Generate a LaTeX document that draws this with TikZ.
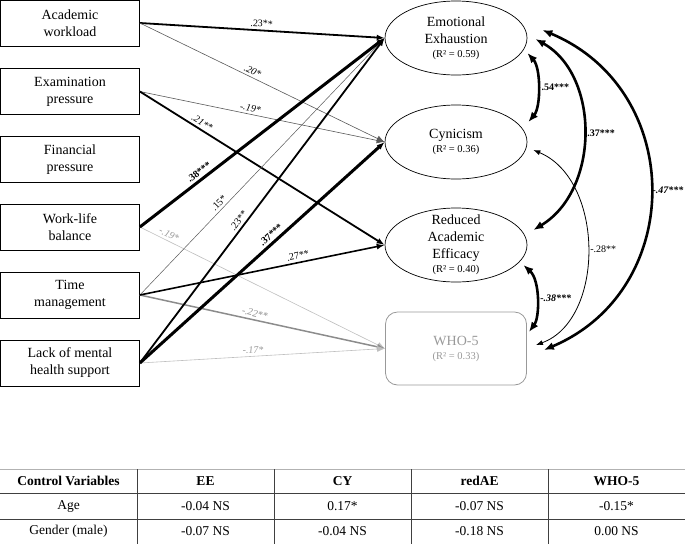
\documentclass[tikz,border=0pt]{standalone}
\usepackage{fontspec}
\setmainfont{Liberation Serif}
\usetikzlibrary{shapes.geometric,arrows.meta,calc}
\begin{document}
\begin{tikzpicture}[x=1pt,y=-1pt,
  src/.style={draw, line width=0.7pt, minimum width=139pt, minimum height=46pt, inner sep=0pt, align=center, font=\fontsize{14}{17}\selectfont},
  outc/.style={ellipse, draw, line width=0.7pt, minimum width=142pt, minimum height=74pt, inner sep=-9pt, align=center, font=\fontsize{14}{17}\selectfont},
  whobox/.style={draw=black!40, text=black!40, rounded corners=12pt, line width=0.8pt, minimum width=141pt, minimum height=73pt, inner sep=0pt, align=center, font=\fontsize{14}{17}\selectfont},
  lab/.style={font=\fontsize{10}{12}\selectfont, inner sep=2.5pt},
  labi/.style={lab, font=\fontsize{10}{12}\selectfont\itshape},
  labb/.style={lab, font=\fontsize{10}{12}\selectfont\bfseries},
  labbi/.style={lab, font=\fontsize{10}{12}\selectfont\bfseries\itshape},
  tip/.style={-{Latex[length=8pt,width=6pt]}},
  heavy/.style={tip, line width=3pt},
  medium/.style={tip, line width=1.8pt},
  thin/.style={tip, line width=0.6pt, draw=black!65},
  faint/.style={tip, line width=0.6pt, draw=black!25},
  curvb/.style={{Latex[length=10pt,width=8pt]}-{Latex[length=10pt,width=8pt]}, line width=2.6pt},
  curvt/.style={{Latex[length=7pt,width=5pt]}-{Latex[length=7pt,width=5pt]}, line width=0.8pt},
  cell/.style={font=\fontsize{13.5}{16}\selectfont, inner sep=0pt},
  hcell/.style={cell, font=\fontsize{13.5}{16}\selectfont\bfseries},
  tline/.style={line width=0.8pt, draw=black!75}
]
\useasboundingbox (0,0) rectangle (685,544);

% predictors
\node[src] (AW) at (70,23) {Academic\\workload};
\node[src] (EP) at (70,91.5) {Examination\\pressure};
\node[src] (FP) at (70,159.5) {Financial\\pressure};
\node[src] (WLB) at (70,227) {Work-life\\balance};
\node[src] (TM) at (70,295) {Time\\management};
\node[src] (LMHS) at (70,363) {Lack of mental\\health support};

% outcomes
\node[outc] (EE) at (456,38) {Emotional\\Exhaustion\\[-3pt]{\fontsize{10.5}{12}\selectfont(R² = 0.59)}};
\node[outc] (CY) at (456,142) {Cynicism\\[-3pt]{\fontsize{10.5}{12}\selectfont(R² = 0.36)}};
\node[outc] (RAE) at (456,245) {Reduced\\Academic\\Efficacy\\[-3pt]{\fontsize{10.5}{12}\selectfont(R² = 0.40)}};
\node[whobox] (WHO) at (456,348.5) {WHO-5\\[-3pt]{\fontsize{10.5}{12}\selectfont(R² = 0.33)}};

% paths
\draw[medium] (AW.east) -- node[lab, pos=0.496, above, sloped] {.23**} (EE.west);
\draw[thin] (AW.east) -- node[labi, pos=0.45, above, sloped] {.20*} (CY.west);
\draw[thin] (EP.east) -- node[labi, pos=0.447, above, sloped] {-.19*} (CY.west);
\draw[medium] (EP.east) -- node[labi, pos=0.24, above, sloped] {.21**} (RAE.west);
\draw[faint] (WLB.east) -- node[labi, text=black!40, pos=0.108, above, sloped] {-.19*} (WHO.west);
\draw[thin, line width=0.5pt] (TM.east) -- node[lab, pos=0.341, above, sloped] {.15*} (EE.west);
\draw[tip, line width=1.5pt, draw=black!45] (TM.east) -- node[labi, text=black!45, pos=0.463, above, sloped] {-.22**} (WHO.west);
\draw[medium, line width=1.6pt] (TM.east) -- node[lab, pos=0.651, above, sloped] {.27**} (RAE.west);
\draw[faint] (LMHS.east) -- node[labi, text=black!40, pos=0.463, above, sloped] {-.17*} (WHO.west);
\draw[medium] (LMHS.east) -- node[lab, pos=0.4255, above, sloped] {.23**} (EE.west);
\draw[heavy] (WLB.east) -- node[labb, pos=0.26, above, sloped] {.38***} (EE.west);
\draw[heavy] (LMHS.east) -- node[labb, pos=0.556, above, sloped] {.37***} (CY.west);

% correlations
\draw[curvb] ($(EE.east)+(0,15)$) .. controls (541,68) and (541,107) .. node[labb, pos=0.5, right] {.54***} ($(CY.east)+(1,-20)$);
\draw[curvb] ($(EE.east)+(8,1)$) .. controls (600,75) and (600,190) .. node[labb, pos=0.5, right] {.37***} ($(RAE.east)+(6,-15)$);
\draw[curvb] ($(EE.east)+(15,-8)$) .. controls (686,90) and (686,290) .. node[labbi, pos=0.5, right, inner sep=1pt] {-.47***} ($(WHO.east)+(17,1.5)$);
\draw[curvt] ($(CY.east)+(6,8)$) .. controls (605,180) and (605,320) .. node[lab, pos=0.5, right] {-.28**} ($(WHO.east)+(9,-3.5)$);
\draw[curvb] ($(RAE.east)+(-4,20)$) .. controls (540,280) and (540,317) .. node[labbi, pos=0.5, right] {-.38***} ($(WHO.east)+(2,-16.5)$);

% table
\draw[line width=0.6pt, draw=black!30] (0,469) -- (685,469);
\draw[tline] (0,493) -- (685,493);
\draw[tline] (0,519) -- (685,519);
\foreach \xx in {137,274,411,548} \draw[tline] (\xx,469) -- (\xx,544);
\node[hcell] (h0) at (68.5,481) {Control Variables};
\node[hcell] (h1) at (205.5,481) {EE};
\node[hcell] (h2) at (342.5,481) {CY};
\node[hcell] (h3) at (479.5,481) {redAE};
\node[hcell] (h4) at (616.5,481) {WHO-5};
\node[cell] (a0) at (68.5,506) {Age};
\node[cell] (a1) at (205.5,506) {-0.04 NS};
\node[cell] (a2) at (342.5,506) {0.17*};
\node[cell] (a3) at (479.5,506) {-0.07 NS};
\node[cell] (a4) at (616.5,506) {-0.15*};
\node[cell] (g0) at (68.5,531) {Gender (male)};
\node[cell] (g1) at (205.5,531) {-0.07 NS};
\node[cell] (g2) at (342.5,531) {-0.04 NS};
\node[cell] (g3) at (479.5,531) {-0.18 NS};
\node[cell] (g4) at (616.5,531) {0.00 NS};
\end{tikzpicture}
\end{document}
